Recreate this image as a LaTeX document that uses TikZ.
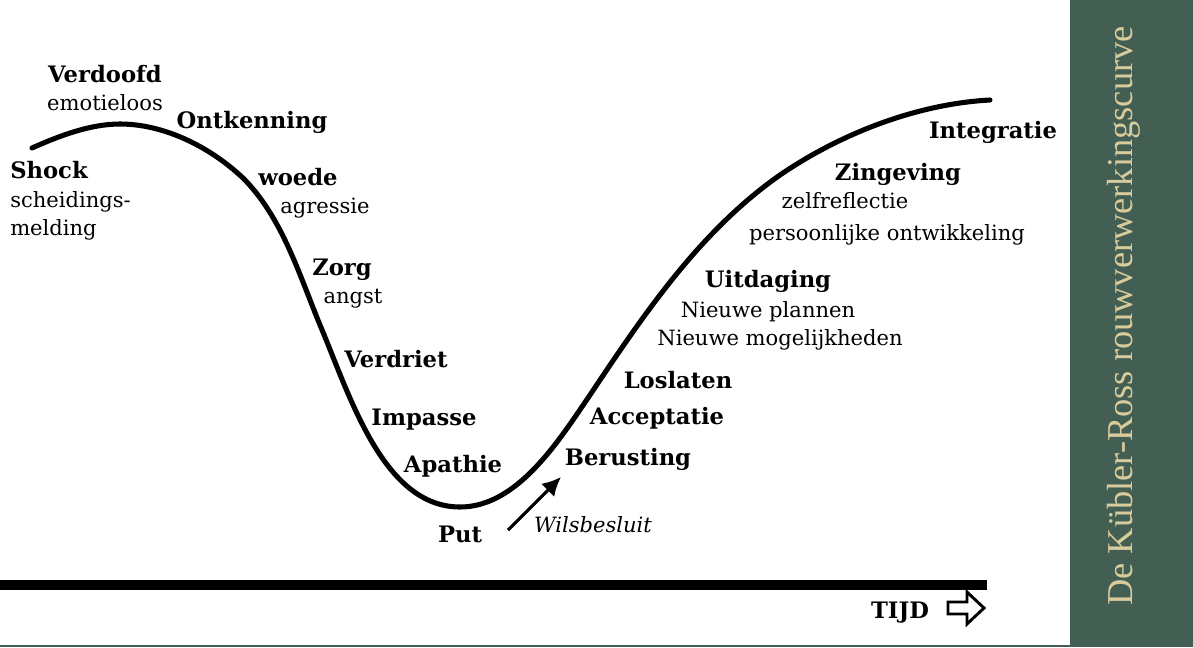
\documentclass[tikz,border=0pt]{standalone}
\usepackage{fontspec}
\setmainfont{DejaVu Serif}
\newfontfamily\sidefont{Liberation Serif}
\usetikzlibrary{arrows.meta}

\definecolor{sidegreen}{RGB}{67,94,82}
\definecolor{sidetext}{RGB}{216,204,156}

\tikzset{
	stage/.style={font=\fontsize{17}{20}\selectfont\bfseries,anchor=base,inner sep=0pt},
	note/.style={font=\fontsize{15.8}{18}\selectfont,anchor=base,inner sep=0pt},
}

\begin{document}
\begin{tikzpicture}[x=0.75pt,y=-0.75pt,>={Latex[length=14pt,width=14pt]}]

\useasboundingbox (0,0) rectangle (1193,647);

\fill[sidegreen] (1070,0) rectangle (1193,647);
\fill[sidegreen] (0,645) rectangle (1193,647);

\node[font=\sidefont\fontsize{27.3}{30}\selectfont,color=sidetext,rotate=90,anchor=base,inner sep=0pt]
	(titel) at (1132,316) {De Kübler-Ross rouwverwerkingscurve};

\draw[line width=3.8pt,line cap=round]
	(32,148) .. controls (59,136) and (90,124) .. (120,124)
	.. controls (162,124) and (208,145) .. (243,178)
	.. controls (282,217) and (299,274) .. (320,325)
	.. controls (350,396) and (383,507) .. (460,507)
	.. controls (517,507) and (558,442) .. (590,395)
	.. controls (644,314) and (700,231) .. (780,175)
	.. controls (840,134) and (916,104) .. (990,100);

\draw[line width=6.8pt] (0,585)--(987,585);

\foreach \x/\y/\naam/\tekst in {105/82/verdoofd/Verdoofd, 252/128/ontkenning/Ontkenning,
	298/185/woede/woede, 342/275/zorg/Zorg, 396/367/verdriet/Verdriet,
	424/425/impasse/Impasse, 453/472/apathie/Apathie, 460/542/put/Put,
	628/465/berusting/Berusting, 657/424/acceptatie/Acceptatie, 678/388/loslaten/Loslaten,
	768/287/uitdaging/Uitdaging, 898/180/zingeving/Zingeving, 993/138/integratie/Integratie,
	900/618/tijd/TIJD}{
	\node[stage] (\naam) at (\x,\y) {\tekst};
}

\foreach \x/\y/\naam/\tekst in {105/110/emotieloos/emotieloos, 325/213/agressie/agressie,
	353/303/angst/angst, 768/317/plannen/Nieuwe plannen,
	780/345/mogelijkheden/Nieuwe mogelijkheden, 845/208/zelfreflectie/zelfreflectie,
	887/240/ontwikkeling/persoonlijke ontwikkeling}{
	\node[note] (\naam) at (\x,\y) {\tekst};
}

\node[stage,anchor=base west] (shock) at (10,178) {Shock};
\node[note,anchor=base west] (scheidings) at (10,207) {scheidings-};
\node[note,anchor=base west] (melding) at (10,235) {melding};

\node[note,font=\fontsize{15.8}{18}\selectfont\itshape] (wilsbesluit) at (593,532) {Wilsbesluit};
\coordinate (wilsvan) at (508,530);
\coordinate (wilsnaar) at (561,477);
\draw[->,line width=2.4pt] (wilsvan)--(wilsnaar);

\draw[line width=2.2pt,line join=miter]
	(948,602)--(967,602)--(967,592)--(984,608)--(967,624)--(967,614)--(948,614)--cycle;

\end{tikzpicture}
\end{document}
